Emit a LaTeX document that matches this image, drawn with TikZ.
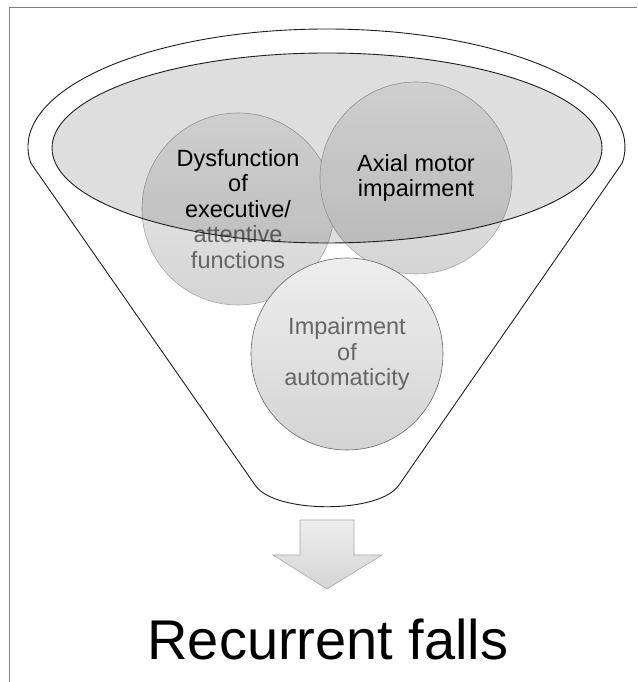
\documentclass[tikz,border=0pt]{standalone}
\usepackage{fontspec}
\setmainfont{Liberation Sans}
\usepackage{xcolor}
\usepackage{tikz}
\usetikzlibrary{positioning}
\definecolor{FrameGray}{HTML}{7F7F7F}
\definecolor{EdgeGray}{HTML}{A6A6A6}
\definecolor{TextGray}{HTML}{666666}
\definecolor{BallTop}{HTML}{EEEEEE}
\definecolor{BallBottom}{HTML}{D4D4D4}
\definecolor{FunnelLine}{HTML}{1E1E1E}

\tikzset{
  bubble/.style={circle, minimum size=192pt, inner sep=0pt, draw=EdgeGray, line width=0.6pt,
    top color=BallTop, bottom color=BallBottom, align=center,
    font=\fontsize{23.5}{25.5}\selectfont},
  funnel/.style={draw=FunnelLine, line width=0.9pt},
  rim/.style={draw=FunnelLine, line width=0.9pt, fill=black, fill opacity=0.13}
}

\begin{document}
\begin{tikzpicture}[x=1pt, y=1pt]
      \useasboundingbox (0,0) rectangle (637,682);
      \draw[FrameGray, line width=0.8pt] (9,0) -- (9,675) -- (637,675);
      % funnel outline
      \draw[funnel] (326.5,535) ++(187.8:298.5 and 118)
        arc[start angle=187.8, end angle=-7.8, x radius=298.5, y radius=118]
        -- (399,197) .. controls (380,168) and (274,168) .. (255,197) -- cycle;
      % the three factors
      \node[bubble] (dysf) at (238,473)
        {Dysfunction\\of\\executive/\\\textcolor{TextGray}{attentive}\\\textcolor{TextGray}{functions}};
      \node[bubble] (axial) at (416,504) {Axial motor\\impairment};
      \node[bubble, TextGray] (autom) at (347,328) {Impairment\\of\\automaticity};
      % funnel mouth
      \draw[rim] (327,534) ellipse[x radius=275, y radius=95];
      % outcome
      \coordinate (tip) at (327,93);
      \draw[EdgeGray, line width=0.6pt, top color=BallTop, bottom color=BallBottom]
        (300,162) -- (354,162) -- (354,127) -- (382,127) -- (tip) -- (273,127) -- (300,127) -- cycle;
      \node[font=\fontsize{56}{60}\selectfont, anchor=base] (falls) at (328,22) {Recurrent falls};
    \end{tikzpicture}
\end{document}
